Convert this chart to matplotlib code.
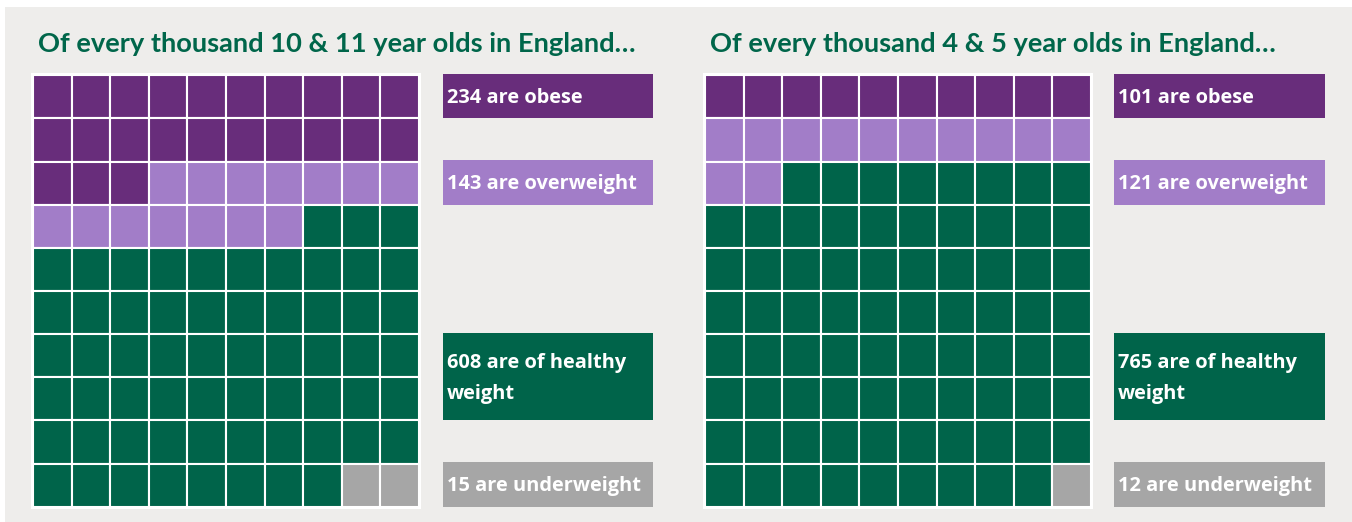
import matplotlib
matplotlib.use("Agg")
import matplotlib.pyplot as plt
from matplotlib.patches import Rectangle

# ---- data -------------------------------------------------------------
categories = ["obese", "overweight", "healthy", "underweight"]
values_10_11 = [234, 143, 608, 15]
values_4_5 = [101, 121, 765, 12]
titles = [
    "Of every thousand 10 & 11 year olds in England\u2026",
    "Of every thousand 4 & 5 year olds in England\u2026",
]
label_templates = [
    "{} are obese",
    "{} are overweight",
    "{} are of healthy\nweight",
    "{} are underweight",
]
# grid rows each category's label box spans
label_rows = [(0, 1), (2, 3), (6, 8), (9, 10)]

colors = ["#682d7b", "#a27dc8", "#00644a", "#a6a6a6"]
title_color = "#00664a"
panel_color = "#eeedeb"

W, H = 1352, 522
GRID_N = 10


def cell_counts(values, per=1000, cells=GRID_N * GRID_N):
    """Largest remainder rounding so that the cells add up to the grid."""
    raw = [v * cells / per for v in values]
    base = [int(r) for r in raw]
    rest = cells - sum(base)
    order = sorted(range(len(raw)), key=lambda i: raw[i] - base[i], reverse=True)
    for i in order[:rest]:
        base[i] += 1
    return base


def px_axes(fig, x0, y0, x1, y1):
    return fig.add_axes([x0 / W, 1 - y1 / H, (x1 - x0) / W, (y1 - y0) / H])


fig = plt.figure(figsize=(W / 100, H / 100), dpi=100, facecolor="white")

# background panel
bg = fig.add_axes([0, 0, 1, 1], zorder=-5)
bg.set_xlim(0, W)
bg.set_ylim(H, 0)
bg.axis("off")
bg.add_patch(Rectangle((5, 7), W - 5, H - 7, facecolor=panel_color, edgecolor="none"))

panels = [
    dict(values=values_10_11, title=titles[0], title_x=38, grid=(31, 421), box=(443, 653)),
    dict(values=values_4_5, title=titles[1], title_x=710, grid=(703, 1093), box=(1114, 1325)),
]
grid_top, grid_bottom = 73, 509
pad = 0.055

for p in panels:
    bg.text(p["title_x"], 52, p["title"], color=title_color, fontsize=19.6,
            fontweight="bold", family="Lato", ha="left", va="baseline")

    # waffle grid, filled row by row from the top-left
    ax = px_axes(fig, p["grid"][0], grid_top, p["grid"][1], grid_bottom)
    ax.set_xlim(-pad, GRID_N + pad)
    ax.set_ylim(GRID_N + pad, -pad)
    ax.set_facecolor("white")
    for s in ax.spines.values():
        s.set_visible(False)
    ax.set_xticks([])
    ax.set_yticks([])
    idx = 0
    for cat_i, n in enumerate(cell_counts(p["values"])):
        for _ in range(n):
            r, c = divmod(idx, GRID_N)
            ax.add_patch(Rectangle((c, r), 1, 1, facecolor=colors[cat_i],
                                   edgecolor="white", linewidth=1.5))
            idx += 1

    # label boxes on the same row scale as the grid
    lx = px_axes(fig, p["box"][0], grid_top, p["box"][1], grid_bottom)
    lx.set_xlim(0, 1)
    lx.set_ylim(GRID_N + pad, -pad)
    lx.axis("off")
    for cat_i, (r0, r1) in enumerate(label_rows):
        lx.add_patch(Rectangle((0, r0 - 0.03), 1, r1 - r0 + 0.03,
                               facecolor=colors[cat_i], edgecolor="none"))
        lx.text(0.02, (r0 + r1) / 2 + 0.03, label_templates[cat_i].format(p["values"][cat_i]),
                color="white", fontsize=14.4, fontweight="bold", family="Open Sans",
                ha="left", va="center", linespacing=1.7)

fig.savefig("out.png", dpi=100, facecolor="white")
